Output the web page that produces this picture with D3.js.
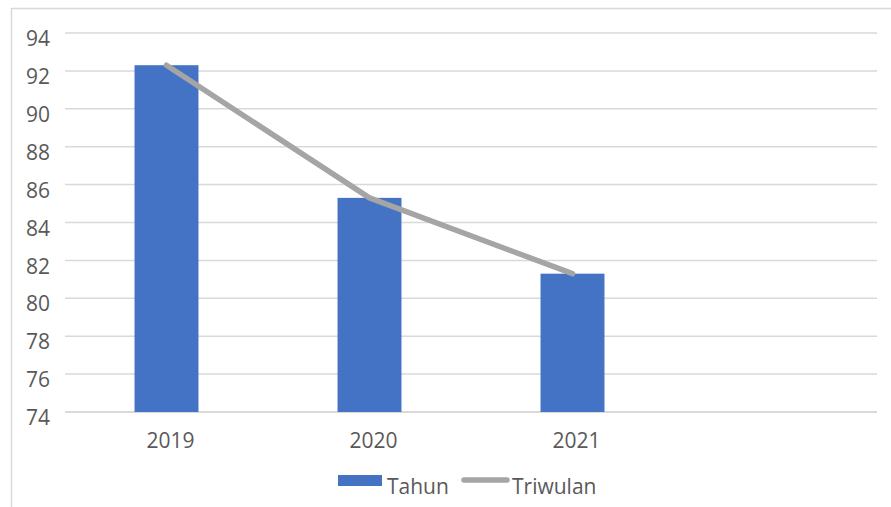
<!DOCTYPE html>
<html>
<head>
<meta charset="utf-8">
<script src="https://cdn.jsdelivr.net/npm/d3@7"></script>
<style>
  body { margin: 0; background: #fff; }
  svg { display: block; }
  text { font-family: "Open Sans", "Noto Sans", sans-serif; fill: #595959; }
</style>
</head>
<body>
<div id="chart"></div>
<script>
// chart values
const categories = ["2019", "2020", "2021", ""];
const tahun = [92.3, 85.3, 81.3];
const triwulan = [92.3, 85.3, 81.3];
const yTicks = [74, 76, 78, 80, 82, 84, 86, 88, 90, 92, 94];

const W = 891, H = 507;
const margin = {top: 33, right: 14, bottom: 95, left: 65};
const width = W - margin.left - margin.right;
const height = H - margin.top - margin.bottom;

const root = d3.select("#chart").append("svg")
    .attr("width", W)
    .attr("height", H);

// outer frame
root.append("rect")
    .attr("x", 11.5).attr("y", 8.5)
    .attr("width", W + 10).attr("height", H + 10)
    .attr("fill", "none")
    .attr("stroke", "#d9d9d9")
    .attr("stroke-width", 1.5);

const svg = root.append("g")
    .attr("transform", `translate(${margin.left},${margin.top})`);

const x = d3.scaleBand().domain(categories).range([0, width]).padding(0);
const y = d3.scaleLinear().domain([74, 94]).range([height, 0]);

// gridlines
svg.append("g")
    .selectAll("line")
    .data(yTicks)
    .join("line")
    .attr("x1", 0).attr("x2", width)
    .attr("y1", d => y(d)).attr("y2", d => y(d))
    .attr("stroke", "#d9d9d9")
    .attr("stroke-width", d => d === 74 ? 2 : 1.5);

// y axis labels
const yAxis = svg.append("g")
    .call(d3.axisLeft(y).tickValues(yTicks).tickSize(0).tickPadding(15));
yAxis.select(".domain").remove();
yAxis.selectAll("text")
    .attr("dy", "0.6em")
    .style("font-size", "21px")
    .attr("fill", "#595959");

// x axis labels
const xAxis = svg.append("g")
    .attr("transform", `translate(4,${height})`)
    .call(d3.axisBottom(x).tickSize(0).tickPadding(21));
xAxis.select(".domain").remove();
xAxis.selectAll("text")
    .style("font-size", "21px")
    .attr("fill", "#595959");

// bars
const barW = x.bandwidth() * 0.315;
svg.append("g")
    .selectAll("rect")
    .data(tahun)
    .join("rect")
    .attr("x", (d, i) => x(categories[i]) + x.bandwidth() / 2 - barW / 2)
    .attr("y", d => y(d))
    .attr("width", barW)
    .attr("height", d => height - y(d))
    .attr("fill", "#4472c4");

// line
const line = d3.line()
    .x((d, i) => x(categories[i]) + x.bandwidth() / 2)
    .y(d => y(d));
svg.append("path")
    .datum(triwulan)
    .attr("d", line)
    .attr("fill", "none")
    .attr("stroke", "#a5a5a5")
    .attr("stroke-width", 5.5)
    .attr("stroke-linecap", "round")
    .attr("stroke-linejoin", "round");

// legend
const lg = root.append("g");
lg.append("rect")
    .attr("x", 338).attr("y", 475)
    .attr("width", 44).attr("height", 11)
    .attr("fill", "#4472c4");
lg.append("text")
    .attr("x", 387).attr("y", 494)
    .style("font-size", "21px")
    .text("Tahun");
lg.append("line")
    .attr("x1", 464).attr("x2", 507)
    .attr("y1", 480).attr("y2", 480)
    .attr("stroke", "#a5a5a5")
    .attr("stroke-width", 5.5)
    .attr("stroke-linecap", "round");
lg.append("text")
    .attr("x", 512).attr("y", 494)
    .style("font-size", "21px")
    .text("Triwulan");
</script>
</body>
</html>
